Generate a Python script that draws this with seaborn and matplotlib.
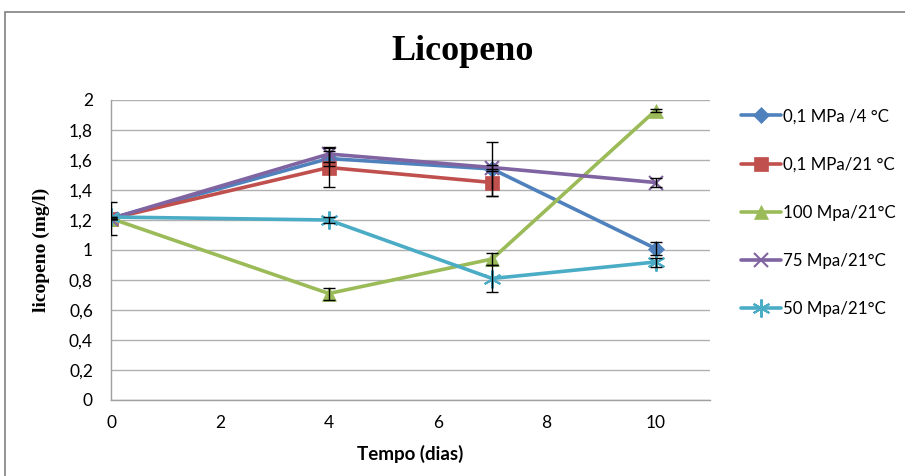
import matplotlib
matplotlib.use("Agg")
import matplotlib.pyplot as plt
import pandas as pd
import seaborn as sns
from matplotlib.patches import Rectangle

# values
dias = [0, 4, 7, 10]
labels = ["0,1 MPa /4 °C", "0,1 MPa/21 °C", "100 Mpa/21°C", "75 Mpa/21°C", "50 Mpa/21°C"]
blue_4c = [1.21, 1.61, 1.54, 1.01]
red_21c = [1.21, 1.55, 1.45]
green_100 = [1.21, 0.71, 0.94, 1.93]
purple_75 = [1.21, 1.64, 1.55, 1.45]
cyan_50 = [1.22, 1.20, 0.81, 0.92]
err_blue = [0.11, 0.05, 0.18, 0.045]
err_red = [0.0, 0.13, 0.09]
err_green = [0.0, 0.04, 0.04, 0.01]
err_purple = [0.0, 0.05, 0.02, 0.03]
err_cyan = [0.0, 0.02, 0.09, 0.03]
yticks = [0, 0.2, 0.4, 0.6, 0.8, 1, 1.2, 1.4, 1.6, 1.8, 2]
ytick_labels = ["0", "0,2", "0,4", "0,6", "0,8", "1", "1,2", "1,4", "1,6", "1,8", "2"]
xticks = [0, 2, 4, 6, 8, 10]

series = [blue_4c, red_21c, green_100, purple_75, cyan_50]
errors = [err_blue, err_red, err_green, err_purple, err_cyan]
colors = ["#4F81BD", "#C0504D", "#9BBB59", "#8064A2", "#4BACC6"]
markers = ["D", "s", "^", "x", (6, 2, 0)]
msizes = [8, 10, 10, 10, 13]

sns.set_theme(style="white")
plt.rcParams["font.family"] = ["Lato", "DejaVu Sans"]
plt.rcParams["text.color"] = "black"
plt.rcParams["axes.labelcolor"] = "black"

fig = plt.figure(figsize=(9.05, 4.76), dpi=100)
ax = fig.add_axes([111 / 905, 76 / 476, (710 - 111) / 905, 300 / 476])

for lab, vals, err, col, mk, ms in zip(labels, series, errors, colors, markers, msizes):
    df = pd.DataFrame({"dias": dias[:len(vals)], "val": vals})
    sns.lineplot(data=df, x="dias", y="val", ax=ax, color=col, marker=mk,
                 markersize=ms, linewidth=2.6, markeredgecolor=col,
                 markeredgewidth=1.5 if mk in ("x", (6, 2, 0)) else 0.5,
                 label=lab, zorder=3)
    ax.errorbar(df["dias"], df["val"], yerr=err, fmt="none", ecolor="black",
                elinewidth=1, capsize=4, capthick=1, zorder=4)

ax.set_xlim(0, 11)
ax.set_ylim(0, 2)
ax.set_xticks(xticks)
ax.set_xticklabels([str(t) for t in xticks])
ax.set_yticks(yticks)
ax.set_yticklabels(ytick_labels)
ax.tick_params(axis="both", labelsize=12.5, colors="black", length=0)
ax.tick_params(axis="x", pad=11)
ax.tick_params(axis="y", pad=13)
ax.yaxis.grid(True, color="#B0B0B0", linewidth=1)
ax.xaxis.grid(False)
for side in ("top", "right"):
    ax.spines[side].set_visible(False)
for side in ("left", "bottom"):
    ax.spines[side].set_color("#A0A0A0")
    ax.spines[side].set_linewidth(1)
ax.set_xlabel("Tempo (dias)", fontsize=13.5, fontweight="bold", labelpad=10)
ax.set_ylabel("licopeno (mg/l)", fontsize=14, fontweight="bold",
              family="Liberation Serif", labelpad=14)

leg = ax.legend(loc="upper left", bbox_to_anchor=(1.04, 0.995), frameon=False,
                fontsize=12.2, labelspacing=1.9, handlelength=2.4,
                handletextpad=0.1, borderaxespad=0)

fig.text(463 / 905, 1 - 52 / 476, "Licopeno", ha="center", va="center",
         fontsize=26, fontweight="bold", family="Liberation Serif")

fig.patches.append(Rectangle((5 / 905, -0.2), 2, (476 - 12) / 476 + 0.2,
                             transform=fig.transFigure, fill=False,
                             edgecolor="#808080", linewidth=1.2))

plt.savefig("out.png", dpi=100)
plt.close()
